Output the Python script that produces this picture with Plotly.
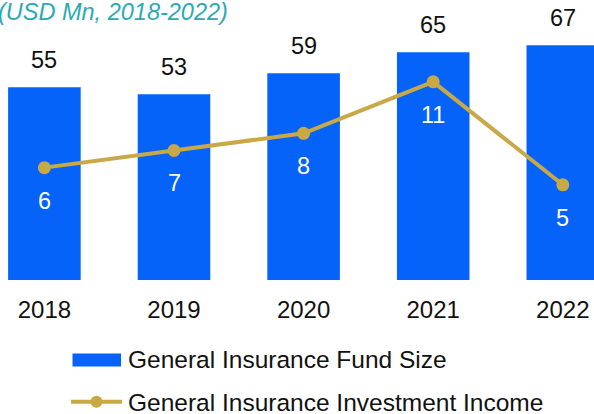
import plotly.graph_objects as go

# Data
years = ["2018", "2019", "2020", "2021", "2022"]
fund_size = [55, 53, 59, 65, 67]          # General Insurance Fund Size (USD Mn)
invest_income = [6, 7, 8, 11, 5]          # General Insurance Investment Income (USD Mn)
unit_note = "(USD Mn, 2018-2022)"
bar_name = "General Insurance Fund Size"
line_name = "General Insurance Investment Income"

W, H = 594, 414
PLOT_H = 280  # plot area height in px (top margin 0)

BLUE = "#0563F9"
GOLD = "#C9A846"
TEAL = "#2BAAB4"
FONT = "Liberation Sans, Arial, sans-serif"


def fx(px):
    return px / W


def fy(py):
    return (PLOT_H - py) / PLOT_H


fig = go.Figure()

fig.add_trace(go.Bar(
    x=years, y=fund_size, name=bar_name,
    marker=dict(color=BLUE, line=dict(width=0)),
    showlegend=False,
))

fig.add_trace(go.Scatter(
    x=years, y=invest_income, name=line_name, yaxis="y2",
    mode="lines+markers",
    line=dict(color=GOLD, width=4),
    marker=dict(color=GOLD, size=13),
    showlegend=False,
))

annotations = []
# values above the bars (x given as category index)
for i, v in enumerate(fund_size):
    annotations.append(dict(
        x=i, y=v, xref="x", yref="y", text=str(v), showarrow=False,
        yanchor="bottom", yshift=12,
        font=dict(family=FONT, size=23.5, color="#111111"),
    ))
# values below the line markers
for i, v in enumerate(invest_income):
    annotations.append(dict(
        x=i, y=v, xref="x", yref="y2", text=str(v), showarrow=False,
        yanchor="top", yshift=-18,
        font=dict(family=FONT, size=23.5, color="#FFFFFF"),
    ))
# unit note
annotations.append(dict(
    x=0, y=fy(12.5), xref="paper", yref="paper", xanchor="left", yanchor="middle",
    xshift=-4, text="<i>" + unit_note + "</i>", showarrow=False,
    font=dict(family=FONT, size=23.5, color=TEAL),
))
# legend labels
annotations.append(dict(
    x=fx(126), y=fy(360), xref="paper", yref="paper", xanchor="left", yanchor="middle",
    text=bar_name, showarrow=False,
    font=dict(family=FONT, size=24.5, color="#111111"),
))
annotations.append(dict(
    x=fx(126), y=fy(402), xref="paper", yref="paper", xanchor="left", yanchor="middle",
    text=line_name, showarrow=False,
    font=dict(family=FONT, size=24.5, color="#111111"),
))

shapes = [
    # bar legend swatch
    dict(type="rect", xref="paper", yref="paper",
         x0=fx(72.5), x1=fx(121), y0=fy(353.5), y1=fy(366.5),
         fillcolor=BLUE, line=dict(width=0)),
    # line legend swatch
    dict(type="line", xref="paper", yref="paper",
         x0=fx(71), x1=fx(122), y0=fy(401.7), y1=fy(401.7),
         line=dict(color=GOLD, width=4)),
    dict(type="circle", xref="paper", yref="paper",
         x0=fx(90.5), x1=fx(102.5), y0=fy(395.7), y1=fy(407.7),
         fillcolor=GOLD, line=dict(width=0)),
]

fig.update_layout(
    width=W, height=H,
    margin=dict(l=0, r=0, t=0, b=H - PLOT_H, pad=0),
    paper_bgcolor="white", plot_bgcolor="white",
    bargap=0.44,
    showlegend=False,
    font=dict(family=FONT, color="#111111"),
    xaxis=dict(
        type="category", range=[-0.3426, 4.2407],
        showgrid=False, zeroline=False, showline=False,
        ticks="outside", ticklen=8, tickcolor="rgba(0,0,0,0)",
        tickfont=dict(family=FONT, size=24, color="#111111"),
        fixedrange=True,
    ),
    yaxis=dict(range=[0, PLOT_H / 3.503], visible=False, fixedrange=True),
    yaxis2=dict(range=[-0.548, 15.77], overlaying="y", side="right",
                visible=False, fixedrange=True),
    annotations=annotations,
    shapes=shapes,
)

fig.write_html("out.html")
